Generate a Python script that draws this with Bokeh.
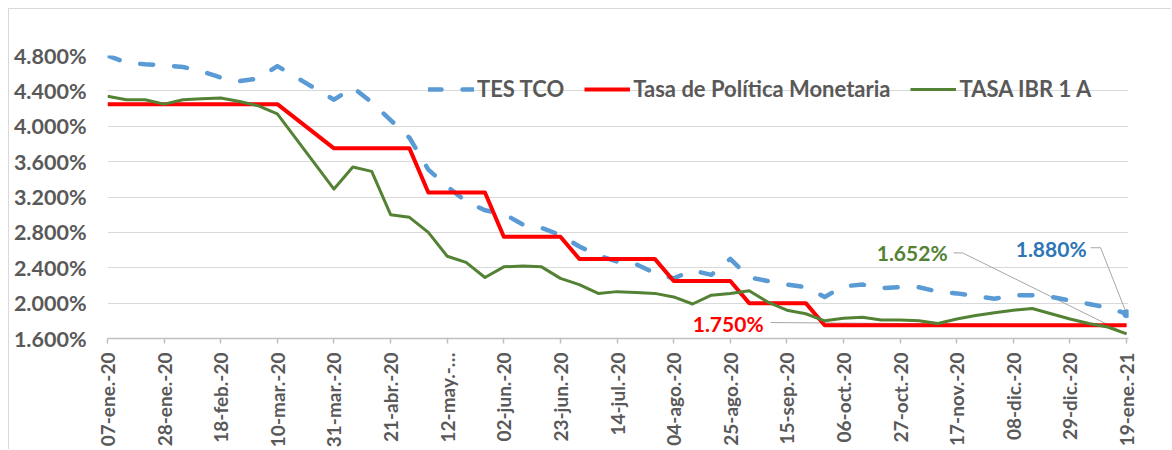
import math
from bokeh.plotting import figure
from bokeh.models import Legend, LegendItem, FixedTicker, PrintfTickFormatter
from bokeh.core.properties import value
from bokeh.embed import file_html
from bokeh.resources import INLINE

# ---------------- data ----------------
tick_labels = ["07-ene.-20", "28-ene.-20", "18-feb.-20", "10-mar.-20", "31-mar.-20",
               "21-abr.-20", "12-may.-…", "02-jun.-20", "23-jun.-20", "14-jul.-20",
               "04-ago.-20", "25-ago.-20", "15-sep.-20", "06-oct.-20", "27-oct.-20",
               "17-nov.-20", "08-dic.-20", "29-dic.-20", "19-ene.-21"]
tick_weeks = list(range(0, 55, 3))

# weeks since 07-ene-20 that carry an observation
weeks = list(range(0, 10)) + list(range(12, 55))

tes_tco = [4.80, 4.72, 4.70, 4.69, 4.67, 4.62, 4.55, 4.51, 4.54, 4.68,
           4.30, 4.44, 4.27, 4.07, 3.87, 3.51, 3.32, 3.15, 3.05, 3.01,
           2.89, 2.85, 2.77, 2.64, 2.54, 2.47, 2.44, 2.34, 2.28, 2.37,
           2.32, 2.50, 2.29, 2.25, 2.21, 2.18, 2.07, 2.19, 2.21, 2.17,
           2.18, 2.18, 2.13, 2.11, 2.08, 2.05, 2.09, 2.09, 2.07, 2.03,
           1.99, 1.95, 1.88]

tasa_politica = [4.25] * 10 + [3.75] * 5 + [3.25] * 4 + [2.75] * 4 + [2.50] * 5 + \
                [2.25] * 4 + [2.00] * 4 + [1.75] * 17

tasa_ibr = [4.34, 4.30, 4.30, 4.25, 4.30, 4.31, 4.32, 4.28, 4.23, 4.14,
            3.29, 3.54, 3.49, 3.00, 2.97, 2.80, 2.53, 2.46, 2.29, 2.41,
            2.42, 2.41, 2.28, 2.21, 2.11, 2.13, 2.12, 2.11, 2.07, 1.99,
            2.09, 2.11, 2.14, 2.01, 1.92, 1.88, 1.80, 1.83, 1.84, 1.81,
            1.81, 1.80, 1.77, 1.82, 1.86, 1.89, 1.92, 1.94, 1.88, 1.82,
            1.77, 1.73, 1.652]

series_names = ["TES TCO", "Tasa de Política Monetaria", "TASA IBR 1 A"]
y_ticks = [1.6, 2.0, 2.4, 2.8, 3.2, 3.6, 4.0, 4.4, 4.8]

# ---------------- styles ----------------
FONT = "Lato"
GRAY_TXT = "#595959"
BLUE = "#5B9BD5"
RED = "#FF0000"
GREEN = "#548235"
BLUE_LBL = "#2E75B6"
LEADER = "#A6A6A6"

X_RANGE = (0, 54.1)
Y_RANGE = (1.6, 4.8)
FRAME_W, FRAME_H = 1021, 283
PX_W = FRAME_W / (X_RANGE[1] - X_RANGE[0])
PX_P = FRAME_H / (Y_RANGE[1] - Y_RANGE[0])

p = figure(width=1163, height=441, x_range=X_RANGE, y_range=Y_RANGE,
           output_backend="svg", toolbar_location=None,
           min_border_left=98, min_border_top=46, min_border_right=44,
           min_border_bottom=112)
p.styles = {"margin-left": "8px", "margin-top": "8px",
            "border-top": "1px solid #D9D9D9", "border-left": "1px solid #D9D9D9"}
p.background_fill_color = "white"
p.border_fill_color = "white"
p.outline_line_color = None

# grid
p.xgrid.grid_line_color = None
p.ygrid.grid_line_color = "#D9D9D9"
p.ygrid.grid_line_width = 1

# y axis
p.yaxis.ticker = FixedTicker(ticks=y_ticks)
p.yaxis.formatter = PrintfTickFormatter(format="%.3f%%")
p.yaxis.axis_line_color = None
p.yaxis.major_tick_line_color = None
p.yaxis.minor_tick_line_color = None
p.yaxis.major_tick_out = 0
p.yaxis.major_tick_in = 0
p.yaxis.major_label_standoff = 21
p.yaxis.major_label_text_font = FONT
p.yaxis.major_label_text_font_style = "bold"
p.yaxis.major_label_text_font_size = "21.5px"
p.yaxis.major_label_text_color = GRAY_TXT

# x axis
p.xaxis.ticker = FixedTicker(ticks=tick_weeks)
p.xaxis.major_label_overrides = {w: lab for w, lab in zip(tick_weeks, tick_labels)}
p.xaxis.axis_line_color = "#BFBFBF"
p.xaxis.axis_line_width = 1.5
p.xaxis.major_tick_line_color = "#BFBFBF"
p.xaxis.major_tick_line_width = 1.5
p.xaxis.major_tick_out = 5
p.xaxis.major_tick_in = 0
p.xaxis.minor_tick_line_color = None
p.xaxis.major_label_orientation = math.pi / 2
p.xaxis.major_label_standoff = 9
p.xaxis.major_label_text_font = FONT
p.xaxis.major_label_text_font_style = "bold"
p.xaxis.major_label_text_font_size = "19px"
p.xaxis.major_label_text_color = GRAY_TXT


def off(x0, y0, dx, dy_up):
    """data position shifted by pixel offsets"""
    return x0 + dx / PX_W, y0 + dy_up / PX_P


xl = weeks[-1]
# leader lines (drawn under the series)
lead_specs = [
    (tasa_politica[-1], [(-356, 2.7)]),
    (tasa_ibr[-1], [(-173, 81), (-164, 81)]),
    (tes_tco[-1], [(-36, 66), (-26, 66)]),
]
for yv, pts in lead_specs:
    xs, ys = [], []
    for dx, dy in pts:
        a, b = off(xl, yv, dx, dy)
        xs.append(a)
        ys.append(b)
    xs.append(xl)
    ys.append(yv)
    p.line(xs, ys, line_color=LEADER, line_width=1)

r_tes = p.line(weeks, tes_tco, line_color=BLUE, line_width=4.5,
               line_dash="13 21", line_cap="round", line_join="round")
r_pol = p.line(weeks, tasa_politica, line_color=RED, line_width=4, line_join="round")
r_ibr = p.line(weeks, tasa_ibr, line_color=GREEN, line_width=3, line_join="round")
p.scatter([xl], [tes_tco[-1]], size=8, color=BLUE)

# data labels
lbl_specs = [
    (tasa_politica[-1], -363, 2, RED),
    (tasa_ibr[-1], -179, 81, GREEN),
    (tes_tco[-1], -40, 65, BLUE_LBL),
]
for yv, dx, dy, col in lbl_specs:
    a, b = off(xl, yv, dx, dy)
    p.text([a], [b], text=["%.3f%%" % yv], text_align="right", text_baseline="middle",
           text_font=value(FONT), text_font_style="bold", text_font_size="21px",
           text_color=col)

legend = Legend(items=[LegendItem(label=series_names[0], renderers=[r_tes]),
                       LegendItem(label=series_names[1], renderers=[r_pol]),
                       LegendItem(label=series_names[2], renderers=[r_ibr])],
                orientation="horizontal", location=(321, 236),
                glyph_width=46, glyph_height=24, label_height=24,
                label_standoff=3, spacing=20, padding=0, margin=0,
                background_fill_alpha=0, border_line_color=None,
                label_text_font=FONT, label_text_font_style="bold",
                label_text_font_size="22px", label_text_color=GRAY_TXT)
p.add_layout(legend, "center")

open("out.html", "w").write(file_html(p, INLINE))
